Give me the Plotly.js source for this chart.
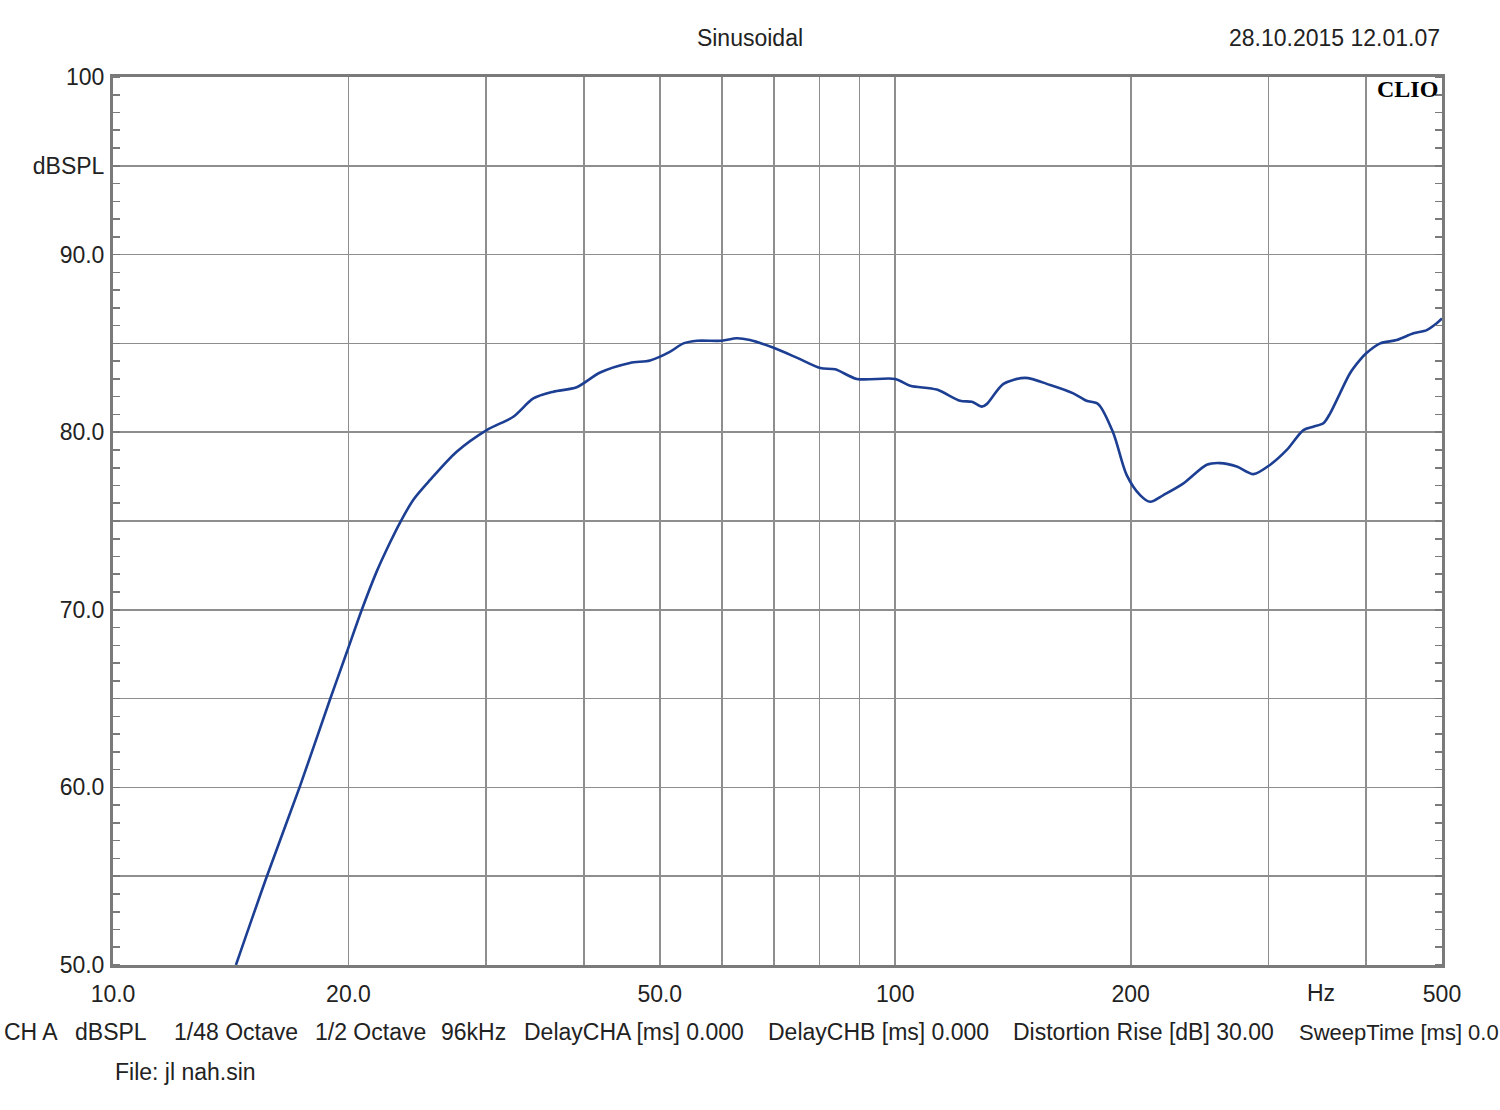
<!DOCTYPE html>
<html>
<head>
<meta charset="utf-8">
<script src="https://cdn.plot.ly/plotly-3.0.1.min.js"></script>
<style>
  html, body { margin: 0; padding: 0; background: #ffffff; }
  #chart { width: 1500px; height: 1110px; }
</style>
</head>
<body>
<div id="chart"></div>
<script>
// ---- data ----
const freqHz = [14.36, 15.73, 17.34, 18.95, 19.88, 20.8, 21.73, 22.61, 23.27, 24.21, 25.43, 27.5, 30.04, 32.49, 34.46, 36.55, 39.15, 41.95, 45.8, 48.6, 51.5, 53.6, 55.8, 60.0, 62.7, 65.2, 69.9, 74.8, 80.2, 83.8, 89.3, 100, 104.5, 113, 121, 125.3, 129, 130.9, 137.5, 146.6, 157.8, 168.9, 175.6, 181.8, 190, 197.6, 205.6, 211.8, 220.2, 233.6, 250.2, 260.2, 273.3, 287.1, 301.6, 316.6, 332.5, 342.4, 352.6, 359.7, 370.3, 381.4, 392.8, 400, 416.8, 437.5, 459.7, 478, 492.3, 500];
const splDb = [50.0, 55.0, 60.07, 64.98, 67.55, 70.0, 72.15, 73.8, 74.9, 76.2, 77.31, 78.9, 80.12, 80.87, 81.9, 82.28, 82.53, 83.36, 83.9, 84.04, 84.52, 85.0, 85.15, 85.15, 85.29, 85.19, 84.75, 84.2, 83.61, 83.54, 83.0, 83.0, 82.62, 82.4, 81.77, 81.71, 81.44, 81.58, 82.72, 83.06, 82.66, 82.19, 81.77, 81.58, 79.96, 77.6, 76.46, 76.08, 76.46, 77.12, 78.17, 78.26, 78.07, 77.64, 78.17, 79.0, 80.12, 80.31, 80.5, 81.06, 82.19, 83.32, 84.07, 84.44, 85.0, 85.19, 85.57, 85.75, 86.13, 86.4];

const xTickVals = [10, 20, 30, 40, 50, 60, 70, 80, 90, 100, 200, 300, 400, 500];
const xTickText = ["10.0", "20.0", "", "", "50.0", "", "", "", "", "100", "200", "", "", "500"];
const yTickVals = [50, 55, 60, 65, 70, 75, 80, 85, 90, 95, 100];
const yTickText = ["50.0", "", "60.0", "", "70.0", "", "80.0", "", "90.0", "dBSPL", "100"];

const titleText = "Sinusoidal";
const dateText = "28.10.2015 12.01.07";
const footerItems = ["CH A", "dBSPL", "1/48 Octave", "1/2 Octave", "96kHz", "DelayCHA [ms] 0.000", "DelayCHB [ms] 0.000", "Distortion Rise [dB] 30.00", "SweepTime [ms] 0.0"];
const footerPx = [2, 73, 172, 313, 439, 522, 766, 1011, 1297];
const fileText = "File: jl nah.sin";

// ---- layout helpers ----
const W = 1500, H = 1110;
const L = 113, R = 1442, T = 77, B = 965;
const pw = R - L;
const pxToPaperX = px => (px - L) / pw;
const pxToPaperY = py => (B - py) / (B - T);

const FONT = "Liberation Sans, Arial, sans-serif";
const TXT = "#222222";

const annotations = [];
annotations.push({
  text: dateText, xref: "paper", yref: "paper",
  x: pxToPaperX(1442), y: pxToPaperY(38), xanchor: "right", yanchor: "middle",
  showarrow: false, font: {family: FONT, size: 23, color: TXT}
});
annotations.push({
  text: "<b>CLIO</b>", xref: "paper", yref: "paper",
  x: pxToPaperX(1440), y: pxToPaperY(89), xanchor: "right", yanchor: "middle",
  showarrow: false, font: {family: "Liberation Serif, Times New Roman, serif", size: 24, color: "#000000"}
});
annotations.push({
  text: "Hz", xref: "paper", yref: "paper",
  x: pxToPaperX(1321), y: pxToPaperY(993), xanchor: "center", yanchor: "middle",
  showarrow: false, font: {family: FONT, size: 23, color: TXT}
});
footerItems.forEach((t, i) => {
  const last = i === footerItems.length - 1;
  annotations.push({
    text: t, xref: "paper", yref: "paper",
    x: pxToPaperX(footerPx[i]), y: pxToPaperY(1032), xanchor: "left", yanchor: "middle",
    showarrow: false, font: {family: FONT, size: last ? 22 : 23, color: TXT}
  });
});
annotations.push({
  text: fileText, xref: "paper", yref: "paper",
  x: pxToPaperX(113), y: pxToPaperY(1072), xanchor: "left", yanchor: "middle",
  showarrow: false, font: {family: FONT, size: 23, color: TXT}
});

const trace = {
  x: freqHz, y: splDb, type: "scatter", mode: "lines",
  line: {color: "#1d3f93", width: 2.6, shape: "spline", smoothing: 0.8},
  hoverinfo: "skip", showlegend: false
};

const layout = {
  width: W, height: H,
  margin: {l: L, r: W - R, t: T, b: H - B, pad: 0},
  paper_bgcolor: "#ffffff", plot_bgcolor: "#ffffff",
  showlegend: false,
  title: {
    text: titleText, xref: "container", yref: "container",
    x: 0.5, y: 1 - 38 / H, xanchor: "center", yanchor: "middle",
    font: {family: FONT, size: 23, color: TXT}
  },
  xaxis: {
    type: "log", range: [1, Math.log10(500)],
    tickmode: "array", tickvals: xTickVals, ticktext: xTickText,
    ticks: "", showgrid: true, gridcolor: "#8e8e8e", gridwidth: 1.6,
    showline: true, linecolor: "#7a7a7a", linewidth: 3, mirror: true,
    zeroline: false, ticklabelstandoff: 6,
    tickfont: {family: FONT, size: 23, color: TXT}
  },
  yaxis: {
    range: [50, 100],
    tickmode: "array", tickvals: yTickVals, ticktext: yTickText,
    ticks: "", showgrid: true, gridcolor: "#8e8e8e", gridwidth: 1.6,
    showline: true, linecolor: "#7a7a7a", linewidth: 3, mirror: "allticks",
    zeroline: false, ticklabelstandoff: 1,
    tickfont: {family: FONT, size: 23, color: TXT},
    minor: {dtick: 1, tick0: 50, ticks: "inside", ticklen: 7, tickwidth: 1.6, tickcolor: "#7a7a7a", showgrid: false}
  },
  annotations: annotations
};

Plotly.newPlot("chart", [trace], layout, {staticPlot: true, displayModeBar: false});
</script>
</body>
</html>
